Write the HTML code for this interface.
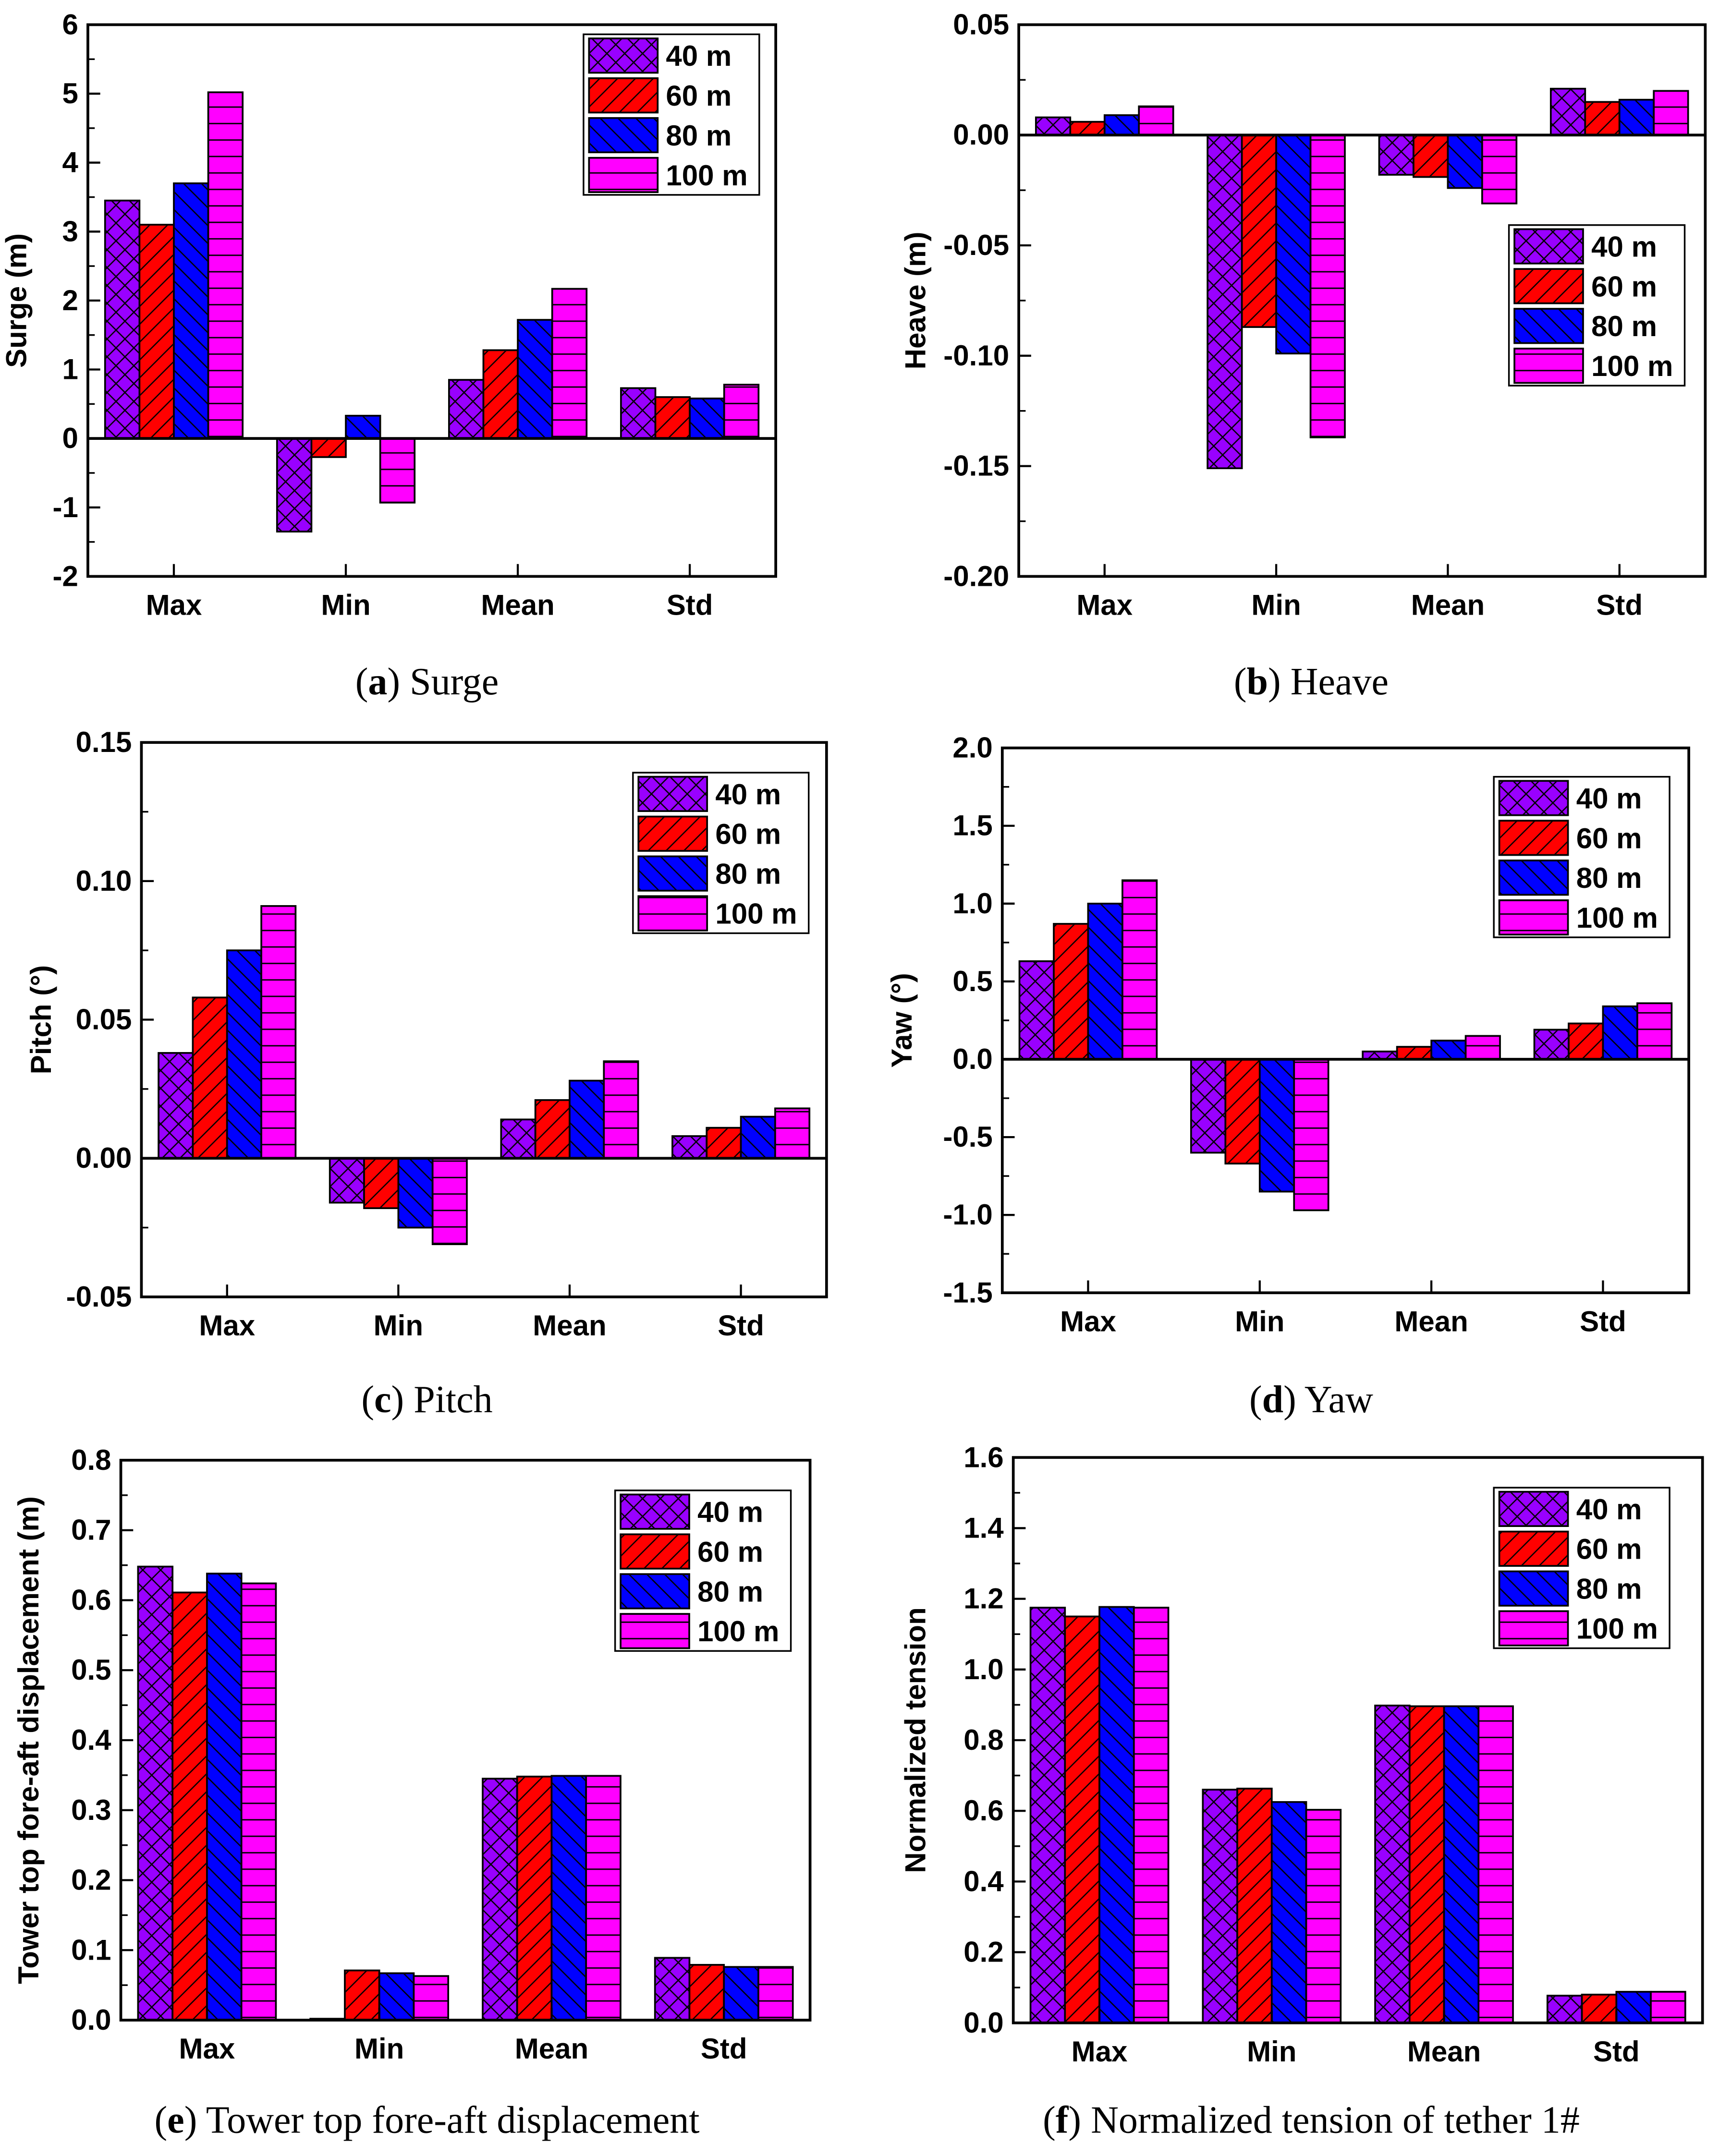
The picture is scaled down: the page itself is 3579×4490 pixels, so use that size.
<!DOCTYPE html>
<html><head><meta charset="utf-8">
<style>
html,body{margin:0;padding:0;background:#fff;}
svg{display:block;}
text{font-family:"Liberation Sans",Arial,sans-serif;font-weight:bold;}
.cap{font-family:"Liberation Serif",serif;font-weight:normal;font-size:28px;}
</style></head>
<body>
<svg id="fig" xmlns="http://www.w3.org/2000/svg" width="3579" height="4490" viewBox="0 0 1252 1571" preserveAspectRatio="none">
<defs>
<pattern id="p0" patternUnits="userSpaceOnUse" width="13" height="13"><rect width="13" height="13" fill="#9900ff"/><path d="M-1,-1L14,14M14,-1L-1,14" stroke="#000" stroke-width="0.9"/></pattern>
<pattern id="p1" patternUnits="userSpaceOnUse" width="13" height="13"><rect width="13" height="13" fill="#ff0000"/><path d="M-2,15L15,-2M-4,4L4,-4M9,17L17,9" stroke="#000" stroke-width="0.9"/></pattern>
<pattern id="p2" patternUnits="userSpaceOnUse" width="13" height="13"><rect width="13" height="13" fill="#0000ff"/><path d="M-2,-2L15,15M-4,9L4,17M9,-4L17,4" stroke="#000" stroke-width="0.9"/></pattern>
<pattern id="p3" patternUnits="userSpaceOnUse" width="12" height="12"><rect width="12" height="12" fill="#ff00ff"/><path d="M0,6L12,6" stroke="#000" stroke-width="1"/></pattern>
</defs>
</svg>
<script>
const categories = ["Max","Min","Mean","Std"];
const seriesNames = ["40 m","60 m","80 m","100 m"];
const surgeVals = [[3.45,-1.35,0.85,0.73],[3.1,-0.27,1.28,0.6],[3.7,0.33,1.72,0.58],[5.02,-0.93,2.17,0.78]];
const heaveVals = [[0.008,-0.151,-0.018,0.021],[0.006,-0.087,-0.019,0.015],[0.009,-0.099,-0.024,0.016],[0.013,-0.137,-0.031,0.020]];
const pitchVals = [[0.038,-0.016,0.014,0.008],[0.058,-0.018,0.021,0.011],[0.075,-0.025,0.028,0.015],[0.091,-0.031,0.035,0.018]];
const yawVals = [[0.63,-0.6,0.05,0.19],[0.87,-0.67,0.08,0.23],[1.0,-0.85,0.12,0.34],[1.15,-0.97,0.15,0.36]];
const towerVals = [[0.648,0.002,0.345,0.089],[0.611,0.071,0.348,0.079],[0.638,0.067,0.349,0.076],[0.624,0.063,0.349,0.076]];
const tensionVals = [[1.175,0.66,0.898,0.077],[1.15,0.663,0.896,0.08],[1.177,0.625,0.896,0.088],[1.175,0.603,0.896,0.088]];
const surgeTicks = ["-2","-1","0","1","2","3","4","5","6"];
const heaveTicks = ["-0.20","-0.15","-0.10","-0.05","0.00","0.05"];
const pitchTicks = ["-0.05","0.00","0.05","0.10","0.15"];
const yawTicks = ["-1.5","-1.0","-0.5","0.0","0.5","1.0","1.5","2.0"];
const towerTicks = ["0.0","0.1","0.2","0.3","0.4","0.5","0.6","0.7","0.8"];
const tensionTicks = ["0.0","0.2","0.4","0.6","0.8","1.0","1.2","1.4","1.6"];

const NS="http://www.w3.org/2000/svg";
const svg=document.getElementById('fig');
function mk(tag,attrs,parent){const e=document.createElementNS(NS,tag);for(const k in attrs)e.setAttribute(k,attrs[k]);(parent||svg).appendChild(e);return e;}

const panels=[
 {key:'surge',vals:surgeVals,ticks:surgeTicks,x0:64,x1:565,y0:18,y1:420,title:'Surge (m)',leg:[425,25],cap:'Surge',letter:'a',cy:497,cx:311},
 {key:'heave',vals:heaveVals,ticks:heaveTicks,x0:742,x1:1242,y0:18,y1:420,title:'Heave (m)',leg:[1099,164],cap:'Heave',letter:'b',cy:497,cx:955},
 {key:'pitch',vals:pitchVals,ticks:pitchTicks,x0:103,x1:602,y0:541,y1:945,title:'Pitch (°)',leg:[461,563],cap:'Pitch',letter:'c',cy:1020,cx:311},
 {key:'yaw',vals:yawVals,ticks:yawTicks,x0:730,x1:1230,y0:545,y1:942,title:'Yaw  (°)',leg:[1088,566],cap:'Yaw',letter:'d',cy:1020,cx:955},
 {key:'tower',vals:towerVals,ticks:towerTicks,x0:88,x1:590,y0:1064,y1:1472,title:'Tower top fore-aft displacement (m)',leg:[448,1086],cap:'Tower top fore-aft displacement',letter:'e',cy:1545,cx:311},
 {key:'tension',vals:tensionVals,ticks:tensionTicks,x0:738,x1:1240,y0:1062,y1:1474,title:'Normalized tension',leg:[1088,1084],cap:'Normalized tension of tether 1#',letter:'f',cy:1545,cx:955}
];

panels.forEach(p=>{
 const g=mk('g',{});
 
 
 const tv=p.ticks.map(Number);
 const vmin=tv[0],vmax=tv[tv.length-1];
 const y=v=>p.y1-(v-vmin)/(vmax-vmin)*(p.y1-p.y0);
 const W=p.x1-p.x0, cw=W/categories.length, bw=cw*0.2;
 const xc=i=>p.x0+cw*(i+0.5);
 p.vals.forEach((ser,s)=>{
  ser.forEach((v,i)=>{
   const xl=xc(i)-2*bw+s*bw;
   const r=mk('rect',{x:xl,y:Math.min(y(v),y(0)),width:bw,height:Math.abs(y(v)-y(0)),fill:'url(#p'+s+')',stroke:'#000','stroke-width':1.3},g);
   
   
  });
 });
 if(vmin<0){const zl=mk('line',{x1:p.x0,x2:p.x1,y1:y(0),y2:y(0),stroke:'#000','stroke-width':2},g);
  }
 const fr=mk('rect',{x:p.x0,y:p.y0,width:W,height:p.y1-p.y0,fill:'none',stroke:'#000','stroke-width':2},g);
 
 const step=tv[1]-tv[0];
 tv.forEach((v,k)=>{
  mk('line',{x1:p.x0,x2:p.x0+9,y1:y(v),y2:y(v),stroke:'#000','stroke-width':1.5},g);
  if(k<tv.length-1) mk('line',{x1:p.x0,x2:p.x0+5,y1:y(v+step/2),y2:y(v+step/2),stroke:'#000','stroke-width':1.2},g);
  const t=mk('text',{x:p.x0-7,y:y(v)+7,'text-anchor':'end','font-size':21},g);
  t.textContent=p.ticks[k];
  
 });
 categories.forEach((c,i)=>{
  mk('line',{x1:xc(i),x2:xc(i),y1:p.y1,y2:p.y1-9,stroke:'#000','stroke-width':1.5},g);
  const t=mk('text',{x:xc(i),y:p.y1+28,'text-anchor':'middle','font-size':21},g);
  t.textContent=c;
  
 });
 const tx=p.x0-(p.key==='surge'?45:(p.key==='tower'?60:(p.key==='pitch'||p.key==='yaw'?66:(p.key==='tension'?64:68))));
 const ty=(p.y0+p.y1)/2;
 const yt=mk('text',{x:tx,y:ty,'text-anchor':'middle','font-size':21,transform:'rotate(-90 '+tx+' '+ty+')'},g);
 yt.textContent=p.title;
 
 const [lx,ly]=p.leg;
 const lg=mk('g',{},g);
 
 mk('rect',{x:lx,y:ly,width:128,height:117,fill:'#fff',stroke:'#000','stroke-width':1.2},lg);
 seriesNames.forEach((n,s)=>{
  const e=mk('g',{},lg);
  
  mk('rect',{x:lx+4,y:ly+3+s*29,width:50,height:25,fill:'url(#p'+s+')',stroke:'#000','stroke-width':1.3},e);
  const t=mk('text',{x:lx+60,y:ly+23+s*29,'font-size':21},e);
  t.textContent=n;
 });
 const cap=mk('text',{x:p.cx,y:p.cy+9,'text-anchor':'middle',class:'cap'},g);
 
 const ts1=mk('tspan',{},cap);ts1.textContent='(';
 const ts2=mk('tspan',{'font-weight':'bold'},cap);ts2.textContent=p.letter;
 const ts3=mk('tspan',{},cap);ts3.textContent=') '+p.cap;
});
</script>
</body></html>
